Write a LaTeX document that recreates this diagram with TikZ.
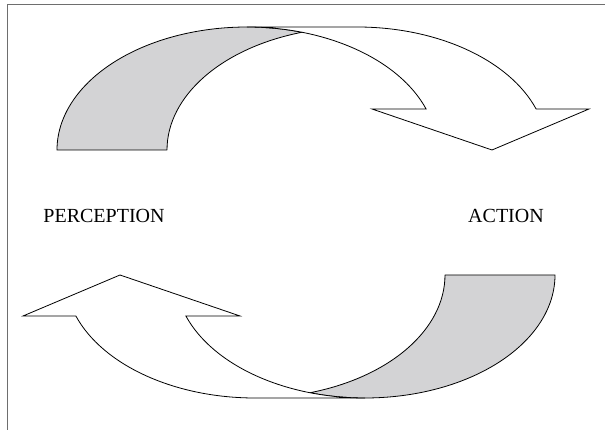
\documentclass[tikz,border=0pt]{standalone}
\usepackage{fontspec}
\setmainfont{Liberation Serif}
\definecolor{bandgray}{RGB}{211,211,213}
\definecolor{framegray}{RGB}{110,110,110}
\tikzset{
  backband/.style={fill=bandgray, draw=black, line width=0.8pt, line join=round},
  frontband/.style={fill=white, draw=black, line width=0.8pt, line join=miter},
  framestyle/.style={draw=framegray, line width=1.3pt},
  label/.style={font=\fontsize{20}{24}\selectfont, anchor=base, inner sep=0pt}
}
\newcommand{\twistarrow}{%
  % back (gray) face
  \path[backband] (57,280) arc[start angle=180, end angle=73.17, x radius=190, y radius=123]
        arc[start angle=106.83, end angle=180, x radius=190, y radius=123] -- cycle;
  % front (white) face with arrow head
  \path[frontband] (247,403) -- (357,403)
        arc[start angle=90, end angle=19.47, x radius=190, y radius=123]
        -- (589,321) -- (492,280) -- (372,321) -- (426.1,321)
        arc[start angle=19.47, end angle=90, x radius=190, y radius=123] -- cycle;
}
\begin{document}
\begin{tikzpicture}[x=1pt, y=1pt]
  \useasboundingbox (0,0) rectangle (605,430);
  \draw[framestyle] (7.3,0) -- (7.3,425.7) -- (605,425.7);
  \twistarrow
  \begin{scope}[rotate around={180:(306,217.5)}]
    \twistarrow
  \end{scope}
  \node[label] (perception) at (104,207) {PERCEPTION};
  \node[label] (action) at (506,207) {ACTION};
\end{tikzpicture}
\end{document}
